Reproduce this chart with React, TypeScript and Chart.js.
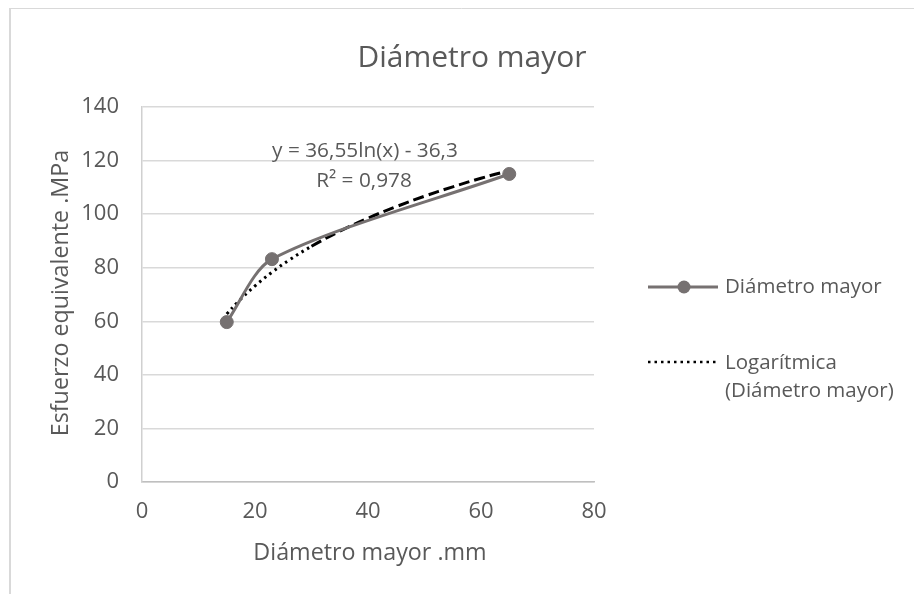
import React, { useEffect, useRef } from 'react';
import { Chart, registerables } from 'chart.js';

Chart.register(...registerables);

// ---- data ----
const diameterMm = [15, 23, 65];
const stressMPa = [59.7, 83.2, 115];

const trendX = [15, 17, 20, 23, 26, 30, 35, 40, 45, 50, 55, 60, 65];
const trendY = [62.7, 67.3, 73.2, 78.3, 82.8, 88.0, 93.6, 98.5, 102.8, 106.7, 110.2, 113.4, 116.3];

const xMin = 0;
const xMax = 80;
const xStep = 20;
const yMin = 0;
const yMax = 140;
const yStep = 20;

const titleText = 'Diámetro mayor';
const xAxisTitle = 'Diámetro mayor .mm';
const yAxisTitle = 'Esfuerzo equivalente .MPa';
const seriesLabel = 'Diámetro mayor';
const trendLabelLines = ['Logarítmica', '(Diámetro mayor)'];
const equationLines = ['y = 36,55ln(x) - 36,3', 'R² = 0,978'];

const FONT = '"Open Sans", "Noto Sans", sans-serif';
const TEXT = '#595959';
const GREY = '#767171';

const decorPlugin = {
  id: 'decor',
  beforeDraw(chart: any) {
    const ctx = chart.ctx;
    ctx.save();
    ctx.fillStyle = '#ffffff';
    ctx.fillRect(0, 0, chart.width, chart.height);
    ctx.strokeStyle = '#d9d9d9';
    ctx.lineWidth = 1;
    ctx.beginPath();
    ctx.moveTo(9, 8.5);
    ctx.lineTo(chart.width, 8.5);
    ctx.stroke();
    ctx.lineWidth = 2;
    ctx.beginPath();
    ctx.moveTo(10, 8);
    ctx.lineTo(10, chart.height);
    ctx.stroke();
    ctx.restore();
  },
  afterDraw(chart: any) {
    const ctx = chart.ctx;
    const area = chart.chartArea;
    ctx.save();
    ctx.fillStyle = TEXT;

    // title
    ctx.font = `30px ${FONT}`;
    ctx.textAlign = 'center';
    ctx.textBaseline = 'alphabetic';
    ctx.fillText(titleText, 472, 67);

    // x axis title
    ctx.font = `23.3px ${FONT}`;
    ctx.fillText(xAxisTitle, 370, 560);

    // y axis title
    ctx.save();
    ctx.translate(67.5, 293);
    ctx.rotate(-Math.PI / 2);
    ctx.fillText(yAxisTitle, 0, 0);
    ctx.restore();

    // equation
    ctx.font = `20.8px ${FONT}`;
    ctx.fillText(equationLines[0], 365, 157);
    ctx.fillText(equationLines[1], 364, 187);

    // legend
    ctx.textAlign = 'left';
    ctx.font = `20.5px ${FONT}`;
    ctx.strokeStyle = GREY;
    ctx.lineWidth = 3;
    ctx.beginPath();
    ctx.moveTo(648, 287);
    ctx.lineTo(718, 287);
    ctx.stroke();
    ctx.beginPath();
    ctx.arc(684, 287, 6.5, 0, Math.PI * 2);
    ctx.fillStyle = GREY;
    ctx.fill();
    ctx.fillStyle = TEXT;
    ctx.fillText(seriesLabel, 725, 293);

    ctx.strokeStyle = '#000000';
    ctx.lineWidth = 2.5;
    ctx.setLineDash([2.5, 4]);
    ctx.beginPath();
    ctx.moveTo(648, 362);
    ctx.lineTo(718, 362);
    ctx.stroke();
    ctx.setLineDash([]);
    ctx.fillText(trendLabelLines[0], 725, 369);
    ctx.fillText(trendLabelLines[1], 725, 397);

    ctx.restore();
  },
};

export default function App() {
  const canvasRef = useRef<HTMLCanvasElement | null>(null);

  useEffect(() => {
    const canvas = canvasRef.current;
    if (!canvas) return;
    const chart = new Chart(canvas, {
      type: 'scatter',
      data: {
        datasets: [
          {
            label: seriesLabel,
            data: diameterMm.map((x, i) => ({ x, y: stressMPa[i] })),
            showLine: true,
            borderColor: GREY,
            backgroundColor: GREY,
            borderWidth: 3,
            tension: 0.28,
            pointRadius: 6.5,
            pointBorderWidth: 1,
            pointBorderColor: GREY,
            pointBackgroundColor: GREY,
          },
          {
            label: trendLabelLines.join(' '),
            data: trendX.map((x, i) => ({ x, y: trendY[i] })),
            showLine: true,
            borderColor: '#000000',
            borderWidth: 3,
            tension: 0.4,
            pointRadius: 0,
            segment: {
              borderDash: (c: any) => (c.p0.parsed.x < 28 ? [2.5, 4] : [11, 5]),
            },
          } as any,
        ],
      },
      options: {
        responsive: false,
        animation: false,
        layout: { padding: { left: 0, top: 107, right: 914 - 594, bottom: 0 } },
        plugins: {
          legend: { display: false },
          title: { display: false },
          tooltip: { enabled: false },
        },
        scales: {
          x: {
            type: 'linear',
            min: xMin,
            max: xMax,
            ticks: {
              stepSize: xStep,
              padding: 17,
              color: TEXT,
              font: { family: FONT, size: 22 },
            },
            grid: { display: false, drawTicks: false },
            border: { display: true, color: '#bfbfbf', width: 1.5 },
            afterFit: (s: any) => {
              s.height = 594 - 482;
            },
          },
          y: {
            type: 'linear',
            min: yMin,
            max: yMax,
            ticks: {
              stepSize: yStep,
              padding: 23,
              color: TEXT,
              font: { family: FONT, size: 22 },
            },
            grid: { color: '#d9d9d9', lineWidth: 1.5, drawTicks: false },
            border: { display: true, color: '#d0d0d0', width: 1.5 },
            afterFit: (s: any) => {
              s.width = 142;
            },
          },
        },
      },
      plugins: [decorPlugin],
    });
    return () => chart.destroy();
  }, []);

  return (
    <div style={{ position: 'fixed', left: 0, top: 0, width: 914, height: 594, background: '#fff' }}>
      <canvas ref={canvasRef} width={914} height={594} style={{ display: 'block' }} />
    </div>
  );
}
